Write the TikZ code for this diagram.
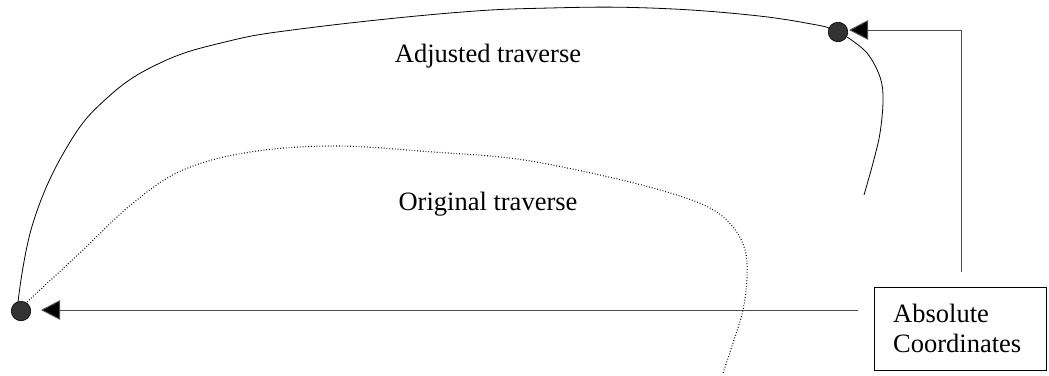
\documentclass[tikz,border=0pt]{standalone}
\usepackage{fontspec}
\setmainfont{Liberation Serif}
\usetikzlibrary{arrows.meta}
\begin{document}
\begin{tikzpicture}[x=1pt,y=-1pt,
  dotnode/.style={circle,draw=black,fill=black!80,minimum size=19.5pt,inner sep=0pt,line width=0.6pt},
  conn/.style={line width=1pt,draw=black!70,-{Triangle[length=19pt,width=19.5pt,fill=black]}},
  lbl/.style={font=\fontsize{26.5}{29.5}\selectfont,inner sep=0pt},
  curve/.style={line width=0.8pt}]
\useasboundingbox (0,0) rectangle (1049,375);
\node[dotnode] (ldot) at (21,311) {};
\node[dotnode] (tdot) at (838,32) {};
\node[draw=black,line width=0.8pt,minimum width=172pt,minimum height=83pt,anchor=north west,inner sep=0pt] (box) at (874,287) {};
\node[lbl,align=left,anchor=base west] (boxtext) at (893,352) {Absolute\\Coordinates};
\node[lbl,anchor=base] (adj) at (488,62) {Adjusted traverse};
\node[lbl,anchor=base] (orig) at (488,210) {Original traverse};
% solid adjusted traverse
\draw[curve] plot[smooth,tension=0.7] coordinates {(18,302) (33,223) (67,147) (107,98) (160,63) (225,42) (300,29) (450,13) (550,8) (650,8) (750,15) (817,25) (829,29)};
\draw[curve] plot[smooth,tension=0.6] coordinates {(847,37) (867,53) (880,77) (883,100) (880,133) (873,163) (864,195)};
% dotted original traverse
\draw[curve,dotted,line width=1.1pt] plot[smooth,tension=0.6] coordinates {(27,302) (83,250) (133,203) (183,170) (250,152) (335,146) (433,152) (517,159) (600,175) (667,192) (710,208) (733,227) (745,250) (747,277) (743,310) (733,343) (723,373)};
% connectors
\coordinate (hstart) at (858,310);
\coordinate (vstart) at (961,272);
\coordinate (corner) at (961,30);
\draw[conn,shorten >=10pt] (hstart) -- (ldot.east |- hstart);
\draw[conn,shorten >=1pt] (vstart) -- (corner) -- (tdot.east |- corner);
\end{tikzpicture}
\end{document}
